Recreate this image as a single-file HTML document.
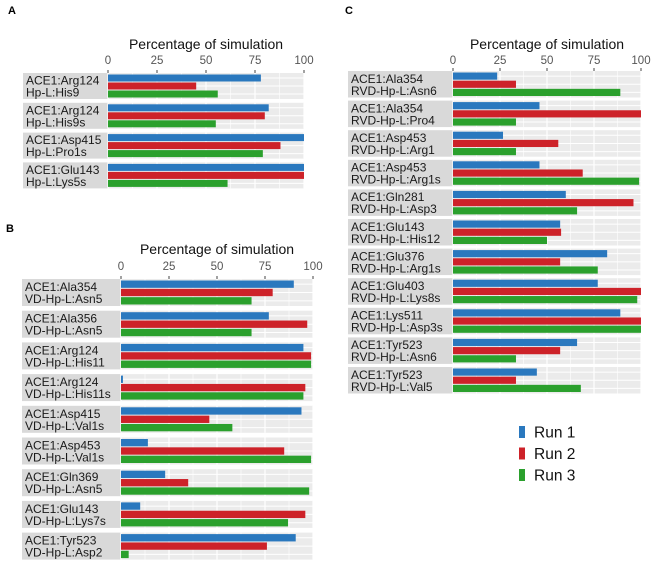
<!DOCTYPE html>
<html><head><meta charset="utf-8"><style>
body{margin:0;background:#fff}
svg{display:block;font-family:"Liberation Sans",sans-serif}
</style></head><body>
<svg id="c" width="669" height="588"></svg>
<script>
const colors=['#2a78be','#cd2229','#2ba02d'];
const seriesNames=['Run 1','Run 2','Run 3'];
const ticks=[0,25,50,75,100];
const catsA=[['ACE1:Arg124','Hp-L:His9'],['ACE1:Arg124','Hp-L:His9s'],['ACE1:Asp415','Hp-L:Pro1s'],['ACE1:Glu143','Hp-L:Lys5s']];
const run1A=[78,82,100,100];
const run2A=[45,80,88,100];
const run3A=[56,55,79,61];
const catsB=[['ACE1:Ala354','VD-Hp-L:Asn5'],['ACE1:Ala356','VD-Hp-L:Asn5'],['ACE1:Arg124','VD-Hp-L:His11'],['ACE1:Arg124','VD-Hp-L:His11s'],['ACE1:Asp415','VD-Hp-L:Val1s'],['ACE1:Asp453','VD-Hp-L:Val1s'],['ACE1:Gln369','VD-Hp-L:Asn5'],['ACE1:Glu143','VD-Hp-L:Lys7s'],['ACE1:Tyr523','VD-Hp-L:Asp2']];
const run1B=[90,77,95,1,94,14,23,10,91];
const run2B=[79,97,99,96,46,85,35,96,76];
const run3B=[68,68,99,95,58,99,98,87,4];
const catsC=[['ACE1:Ala354','RVD-Hp-L:Asn6'],['ACE1:Ala354','RVD-Hp-L:Pro4'],['ACE1:Asp453','RVD-Hp-L:Arg1'],['ACE1:Asp453','RVD-Hp-L:Arg1s'],['ACE1:Gln281','RVD-Hp-L:Asp3'],['ACE1:Glu143','RVD-Hp-L:His12'],['ACE1:Glu376','RVD-Hp-L:Arg1s'],['ACE1:Glu403','RVD-Hp-L:Lys8s'],['ACE1:Lys511','RVD-Hp-L:Asp3s'],['ACE1:Tyr523','RVD-Hp-L:Asn6'],['ACE1:Tyr523','RVD-Hp-L:Val5']];
const run1C=[23.5,46,26.6,46,60,57,82,77,89,66,44.6];
const run2C=[33.5,100,56,69,96,57.5,57,100,100,57,33.5];
const run3C=[89,33.5,33.5,99,66,50,77,98,100,33.5,68];

const svg=document.getElementById('c');
const NS='http://www.w3.org/2000/svg';
function mk(tag,attrs,parent){const e=document.createElementNS(NS,tag);for(const k in attrs)e.setAttribute(k,attrs[k]);(parent||svg).appendChild(e);return e;}

function panel(id,letter,lx,ly,cats,runs,o){
  const g=mk('g',{});
  
  
  const sx=v=>o.x0+(o.x1-o.x0)*v/100;
  const L=mk('text',{x:lx,y:ly,'font-size':11,'font-weight':'bold',fill:'#000'},g);L.textContent=letter;
  
  
  const t=mk('text',{x:(o.x0+o.x1)/2,y:o.titleY,'font-size':14,'text-anchor':'middle',fill:'#111'},g);t.textContent='Percentage of simulation';
  
  
  ticks.forEach(v=>{
    const tl=mk('text',{x:sx(v),y:o.tickY,'font-size':11.5,'text-anchor':'middle',fill:'#555'},g);tl.textContent=v;
    
    
    mk('line',{x1:sx(v),x2:sx(v),y1:o.top-3,y2:o.top,stroke:'#444','stroke-width':1},g);
  });
  cats.forEach((c,i)=>{
    const top=o.top+i*o.pitch, h=o.h;
    const s=mk('rect',{x:o.sx,y:top,width:o.x0-o.sx,height:h,fill:'#d9d9d9'},g);
    
    
    const tx=mk('text',{x:o.sx+3,y:top+h/2-1.5,'font-size':12,fill:'#1a1a1a'},g);tx.textContent=c[0];
    
    
    const tx2=mk('text',{x:o.sx+3,y:top+h/2+10.5,'font-size':12,fill:'#1a1a1a'},g);tx2.textContent=c[1];
    
    
    const bg=mk('rect',{x:o.x0,y:top,width:o.x1-o.x0,height:h,fill:'#ebebeb'},g);
    
    
    for(let v=12.5;v<100;v+=25)mk('line',{x1:sx(v),x2:sx(v),y1:top,y2:top+h,stroke:'#fff','stroke-width':0.6},g);
    ticks.forEach(v=>mk('line',{x1:sx(v),x2:sx(v),y1:top,y2:top+h,stroke:'#fff','stroke-width':1.2},g));
    const bh=(h-2)/3;
    runs.forEach((r,k)=>{
      mk('line',{x1:o.x0,x2:o.x1,y1:top+1+bh*(k+0.5),y2:top+1+bh*(k+0.5),stroke:'#fff','stroke-width':1},g);
      const b=mk('rect',{x:o.x0,y:top+1+bh*k+0.5,width:sx(r[i])-o.x0,height:bh-1,fill:colors[k]},g);
      
      
    });
  });
}
panel('a','A',8,14,catsA,[run1A,run2A,run3A],{x0:108,x1:304,sx:23,top:73,pitch:29.8,h:26,titleY:49,tickY:64});
panel('b','B',6,232,catsB,[run1B,run2B,run3B],{x0:121,x1:313,sx:22,top:279,pitch:31.7,h:27,titleY:254,tickY:270});
panel('c','C',345,14,catsC,[run1C,run2C,run3C],{x0:453,x1:641,sx:348,top:71,pitch:29.6,h:26.5,titleY:49,tickY:64});

const lg=mk('g',{});


seriesNames.forEach((n,k)=>{
  const cy=432+k*21.5;
  const r=mk('rect',{x:519,y:cy-6,width:6,height:12,fill:colors[k]},lg);
  
  
  const t=mk('text',{x:534,y:cy+5.5,'font-size':15.5,fill:'#111'},lg);t.textContent=n;
  
  
});
</script>
</body></html>
